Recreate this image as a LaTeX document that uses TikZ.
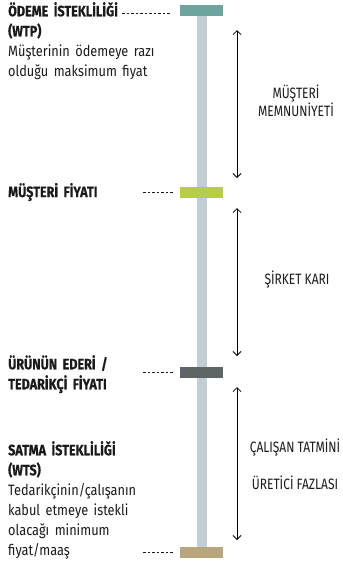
\documentclass[tikz,border=0pt]{standalone}
\usepackage{fontspec}
\setmainfont{Fira Sans}[FakeStretch=0.85,BoldFeatures={FakeStretch=0.84,FakeBold=0.5}]
\newfontfamily\labelfont{Fira Sans}[FakeStretch=0.8]
\newcommand\leftfontsel{\fontsize{15}{20}\selectfont\setlength{\spaceskip}{5.5pt plus 1pt}}
\usetikzlibrary{arrows.meta}
\definecolor{cteal}{HTML}{6BA59E}
\definecolor{cpole}{HTML}{C3CDD4}
\definecolor{cgreen}{HTML}{B6CD4B}
\definecolor{cdark}{HTML}{5D6566}
\definecolor{ctan}{HTML}{B9A67E}
\definecolor{ctext}{HTML}{1A1A1A}
\begin{document}
\begin{tikzpicture}[x=1pt,y=-1pt,
  barbox/.style={minimum width=43pt,minimum height=11pt,inner sep=0pt,draw=none},
  lefttext/.style={anchor=north west,align=left,inner sep=0pt,text=ctext,font=\leftfontsel},
  righttext/.style={align=center,inner sep=0pt,text=ctext,font=\labelfont\fontsize{15}{18}\selectfont},
  dashline/.style={draw=ctext,line width=0.7pt,dash pattern=on 2.5pt off 2pt},
  spanarrow/.style={draw=black,line width=0.8pt,{Straight Barb[length=4pt,width=8pt]}-{Straight Barb[length=4pt,width=8pt]}}
]
\useasboundingbox (0,0) rectangle (343,566);
% pole
\fill[cpole] (197,14) rectangle (207,552);
% bars
\node[barbox,fill=cteal]  (wtp)   at (201.5,10.5) {};
\node[barbox,fill=cgreen] (price) at (201.5,192) {};
\node[barbox,fill=cdark]  (cost)  at (201.5,372.5) {};
\node[barbox,fill=ctan]   (wts)   at (201.5,552) {};
% left texts
\node[lefttext] (twtp) at (8,2) {\textbf{ÖDEME İSTEKLİLİĞİ}\\\textbf{(WTP)}\\Müşterinin ödemeye razı\\olduğu maksimum fiyat};
\node[lefttext,anchor=west] (tprice) at (8,192) {\textbf{MÜŞTERİ FİYATI}};
\node[lefttext,anchor=north west] (tcost) at (8,355) {\textbf{ÜRÜNÜN EDERİ /}\\\textbf{TEDARİKÇİ FİYATI}};
\node[lefttext] (twts) at (8,441) {\textbf{SATMA İSTEKLİLİĞİ}\\\textbf{(WTS)}\\Tedarikçinin/çalışanın\\kabul etmeye istekli\\olacağı minimum\\fiyat/maaş};
% dashed leaders
\coordinate (d1) at (122,13);
\coordinate (d2) at (143,192);
\coordinate (d3) at (143,372.5);
\coordinate (d4) at (143,552);
\draw[dashline] (d1) -- ([xshift=-9pt]wtp.west |- d1);
\draw[dashline] (d2) -- ([xshift=-7pt]price.west);
\draw[dashline] (d3) -- ([xshift=-7pt]cost.west);
\draw[dashline] (d4) -- ([xshift=-7pt]wts.west);
% span arrows
\coordinate (a1t) at (237,30);
\coordinate (a1b) at (237,178);
\coordinate (a2t) at (237,208);
\coordinate (a2b) at (237,356);
\coordinate (a3t) at (237,387);
\coordinate (a3b) at (237,540);
\draw[spanarrow] (a1t) -- (a1b);
\draw[spanarrow] (a2t) -- (a2b);
\draw[spanarrow] (a3t) -- (a3b);
% right labels
\node[righttext] (l1) at (296,101) {MÜŞTERİ\\MEMNUNİYETİ};
\node[righttext] (l2) at (297,280) {ŞİRKET KARI};
\node[righttext] (l3) at (295,448) {ÇALIŞAN TATMİNİ};
\node[righttext] (l4) at (295,483) {ÜRETİCİ FAZLASI};
\end{tikzpicture}
\end{document}
